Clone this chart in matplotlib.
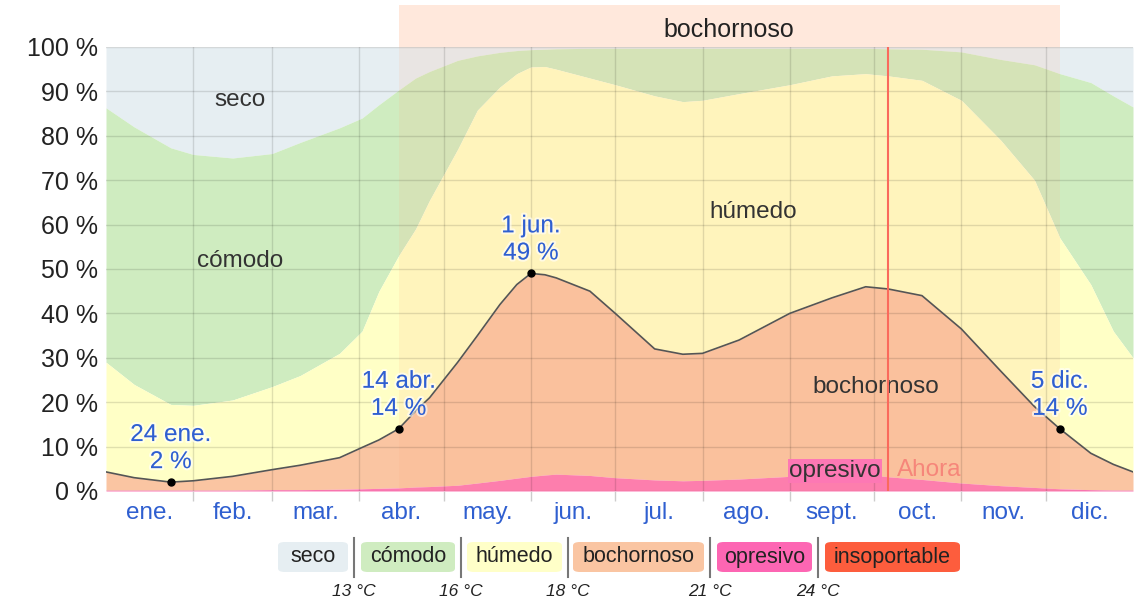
import numpy as np
import matplotlib.pyplot as plt
import matplotlib.patheffects as pe
import matplotlib.transforms as mtransforms
from matplotlib.patches import FancyBboxPatch, Rectangle

plt.rcParams['font.family'] = ['Liberation Sans', 'DejaVu Sans']

# day of year (0 = 1 ene.) and cumulative tops of each comfort band, in %
days = [0, 10, 23, 31, 45, 59, 69, 83, 91, 97, 104, 110, 115, 125, 132, 140, 146, 151, 156,
        160, 172, 181, 195, 205, 212, 225, 243, 258, 270, 278, 290, 304, 318, 330, 339,
        350, 358, 365]
opresivo_top = [0.2, 0.2, 0.2, 0.2, 0.2, 0.3, 0.3, 0.4, 0.5, 0.6, 0.7, 0.9, 1.0, 1.3, 1.8,
                2.4, 2.9, 3.3, 3.6, 3.8, 3.5, 3.0, 2.5, 2.3, 2.4, 2.7, 3.3, 3.8, 3.8, 3.2,
                2.6, 1.8, 1.2, 0.8, 0.5, 0.3, 0.2, 0.2]
bochornoso_top = [4.3, 3.0, 2.0, 2.3, 3.3, 4.8, 5.8, 7.5, 9.8, 11.5, 14, 18, 21, 29, 35, 42,
                  46.5, 49, 48.7, 48, 45, 40, 32, 30.8, 31, 34, 40, 43.5, 46, 45.5, 44,
                  36.5, 27, 19, 14, 8.5, 6, 4.3]
humedo_top = [29, 24, 19.5, 19.3, 20.5, 23.5, 26, 31, 36, 45, 53, 59, 65.5, 77, 85.8, 91,
              94, 95.5, 95.6, 95, 93, 91.5, 89, 87.7, 88, 89.5, 91.5, 93.5, 94, 93.5, 92.5,
              88, 79, 70, 57, 46.5, 36, 30]
comodo_top = [86.3, 82, 77.3, 75.8, 75, 76, 78.5, 81.8, 84, 87, 90.3, 93, 94.5, 97, 98,
              98.8, 99.2, 99.4, 99.5, 99.6, 99.7, 99.7, 99.7, 99.7, 99.7, 99.7, 99.7, 99.7,
              99.7, 99.6, 99.5, 98.9, 97.2, 96, 94, 92, 89, 86.5]

month_starts = [0, 31, 59, 90, 120, 151, 181, 212, 243, 273, 304, 334, 365]
month_labels = ['ene.', 'feb.', 'mar.', 'abr.', 'may.', 'jun.', 'jul.', 'ago.',
                'sept.', 'oct.', 'nov.', 'dic.']

hl_days = [23, 104, 151, 339]
hl_dates = ['24 ene.', '14 abr.', '1 jun.', '5 dic.']
hl_values = [2, 14, 49, 14]

muggy_start, muggy_end = 104, 339
now_day = 278

legend_names = ['seco', 'cómodo', 'húmedo', 'bochornoso', 'opresivo', 'insoportable']
legend_colors = ['#e6eef2', '#cfecc0', '#ffffc8', '#fac5a2', '#fd66b3', '#fd5d3d']
legend_temps = ['13 °C', '16 °C', '18 °C', '21 °C', '24 °C']

blue = '#2f5fd0'
dark = '#333333'

W, H = 1147, 603
fig = plt.figure(figsize=(W / 100, H / 100), dpi=100)
ax = fig.add_axes([106 / W, 112 / H, 1027 / W, 444 / H])

x = np.array(days)
ax.fill_between(x, comodo_top, 100, color='#e6eef2', lw=0, zorder=1)
ax.fill_between(x, humedo_top, comodo_top, color='#cfecc0', lw=0, zorder=1)
ax.fill_between(x, bochornoso_top, humedo_top, color='#ffffc6', lw=0, zorder=1)
ax.fill_between(x, opresivo_top, bochornoso_top, color='#fac5a2', lw=0, zorder=1)
ax.fill_between(x, 0, opresivo_top, color='#fd78b4', lw=0, zorder=1)
ax.plot(x, bochornoso_top, color='#555555', lw=1.2, zorder=3)

# muggy period band
ax.axvspan(muggy_start, muggy_end, color='#ffaa80', alpha=0.13, lw=0, zorder=1.5)
tr = mtransforms.blended_transform_factory(ax.transData, ax.transAxes)
ax.add_patch(Rectangle((muggy_start, 1.0), muggy_end - muggy_start, 42 / 444,
                       transform=tr, clip_on=False, color='#ffe8dc', lw=0))
ax.text((muggy_start + muggy_end) / 2, 1.0 + 17 / 444, 'bochornoso', transform=tr,
        ha='center', va='center', fontsize=18, color='#222222')

# now line
ax.axvline(now_day, color='#fa6a5c', lw=1.5, zorder=4)
ax.text(now_day + 3, 4.7, 'Ahora', ha='left', va='center', fontsize=17.5, color='#f6867a', zorder=5)

# band labels
ax.text(47.6, 88, 'seco', ha='center', va='center', fontsize=17.5, color=dark)
ax.text(47.6, 51.8, 'cómodo', ha='center', va='center', fontsize=17.5, color=dark)
ax.text(230, 62.8, 'húmedo', ha='center', va='center', fontsize=17.5, color=dark)
ax.text(273.6, 23.4, 'bochornoso', ha='center', va='center', fontsize=17.5, color=dark)
ax.text(259, 4.5, 'opresivo', ha='center', va='center', fontsize=17.5, color=dark, zorder=5,
        bbox=dict(boxstyle='square,pad=0.05', fc='#fd78b4', ec='none'))

# highlighted points
halo = [pe.withStroke(linewidth=3, foreground=(1, 1, 1, 0.6))]
for d, lab, v in zip(hl_days, hl_dates, hl_values):
    ax.plot(d, v, 'o', color='black', ms=5, zorder=6)
    ax.annotate(f'{lab}\n{v} %', (d, v), xytext=(0, 9), textcoords='offset pixels',
                ha='center', va='bottom', fontsize=17.5, color=blue, linespacing=1.3,
                path_effects=halo, zorder=6)

ax.set_xlim(0, 365)
ax.set_ylim(0, 100)
ax.set_yticks(range(0, 101, 10))
ax.set_yticklabels([f'{v} %' for v in range(0, 101, 10)])
ax.set_xticks(month_starts[1:-1])
ax.set_xticklabels([])
mids = [(a + b) / 2 for a, b in zip(month_starts[:-1], month_starts[1:])]
ax.set_xticks(mids, minor=True)
ax.set_xticklabels(month_labels, minor=True)
ax.tick_params(axis='y', length=0, pad=6, labelsize=18, labelcolor='#222222')
ax.tick_params(axis='x', which='major', length=7, color='#cccccc', width=1)
ax.tick_params(axis='x', which='minor', length=0, pad=8, labelsize=17.5, labelcolor=blue)
ax.set_axisbelow(False)
ax.grid(True, which='major', color='black', alpha=0.12, lw=1)
for s in ax.spines.values():
    s.set_visible(False)

# legend
boxes = [(278, 348), (361, 455), (467, 562), (573, 704), (717, 812), (825, 960)]
seps = [354, 461, 568, 710, 818]
for (x0, x1), name, col in zip(boxes, legend_names, legend_colors):
    fig.patches.append(FancyBboxPatch((x0 / W, (H - 572) / H), (x1 - x0) / W, 30 / H,
                                      boxstyle='round,pad=0,rounding_size=0.006',
                                      transform=fig.transFigure, fc=col, ec='none'))
    fig.text((x0 + x1) / 2 / W, (H - 557) / H, name, ha='center', va='center',
             fontsize=15.5, color='#222222')
for sx, t in zip(seps, legend_temps):
    fig.add_artist(plt.Line2D([sx / W, sx / W], [(H - 577) / H, (H - 538) / H],
                              color='#777777', lw=1.5, transform=fig.transFigure))
    fig.text(sx / W, (H - 591) / H, t, ha='center', va='center', fontsize=12.5,
             style='italic', color='#222222')

fig.savefig('out.png', dpi=100)
